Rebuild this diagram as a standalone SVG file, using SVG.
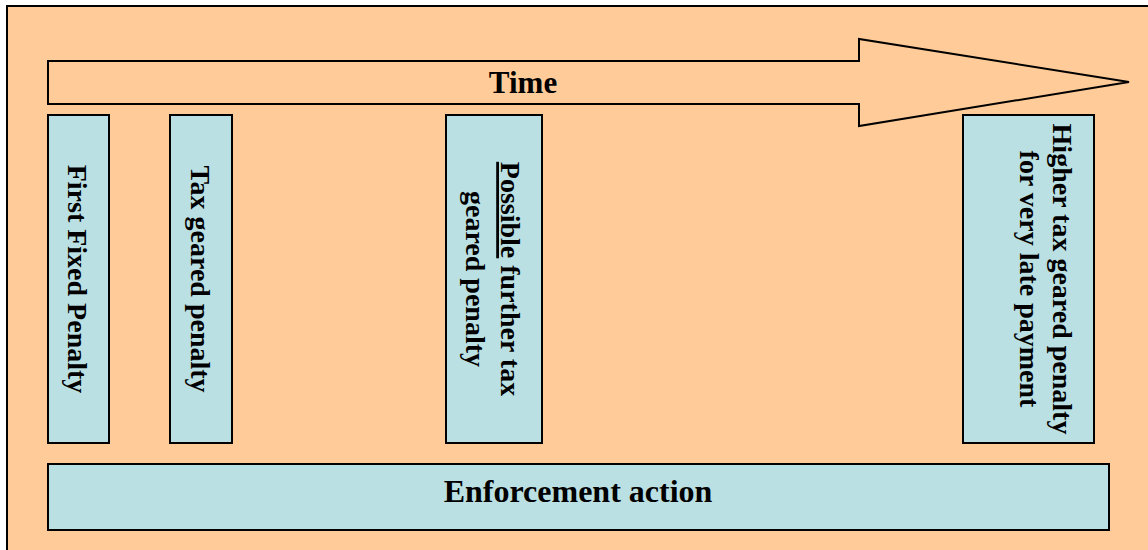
<svg xmlns="http://www.w3.org/2000/svg" width="1148" height="550" viewBox="0 0 1148 550">
  <style>
    .bg { fill: #FFCC99; stroke: #000; stroke-width: 2; }
    .box { fill: #BBE0E3; stroke: #000; stroke-width: 2; }
    .lbl { font-family: "Liberation Serif", "Times New Roman", serif; font-weight: bold; fill: #000; }
    .v { font-size: 28px; text-anchor: middle; }
    .h { font-size: 31px; text-anchor: middle; }
    .h2 { font-size: 32px; text-anchor: middle; }
  </style>
  <rect x="7" y="6" width="1160" height="570" class="bg"/>
  <g id="time-arrow">
    <polygon points="48,61 859,61 859,39 1129,82 859,126 859,104 48,104" class="bg"/>
    <text x="523" y="93" class="lbl h">Time</text>
  </g>
  <g id="first-fixed-penalty">
    <rect x="48" y="115" width="61" height="328" class="box"/>
    <text transform="translate(68,279) rotate(90)" class="lbl v">First Fixed Penalty</text>
  </g>
  <g id="tax-geared-penalty">
    <rect x="170" y="115" width="62" height="328" class="box"/>
    <text transform="translate(191,279) rotate(90)" class="lbl v">Tax geared penalty</text>
  </g>
  <g id="possible-further-penalty">
    <rect x="446" y="115" width="96" height="328" class="box"/>
    <text transform="translate(501,279) rotate(90)" class="lbl v"><tspan x="0" y="0"><tspan text-decoration="underline">Possible</tspan> further tax</tspan><tspan x="0" y="35">geared penalty</tspan></text>
  </g>
  <g id="higher-penalty">
    <rect x="963" y="115" width="131" height="328" class="box"/>
    <text transform="translate(1053,279) rotate(90)" class="lbl v"><tspan x="0" y="0">Higher tax geared penalty</tspan><tspan x="0" y="33">for very late payment</tspan></text>
  </g>
  <g id="enforcement-action">
    <rect x="48" y="464" width="1061" height="66" class="box"/>
    <text x="578" y="502" class="lbl h2">Enforcement action</text>
  </g>
  <g id="connectors"/>
</svg>
